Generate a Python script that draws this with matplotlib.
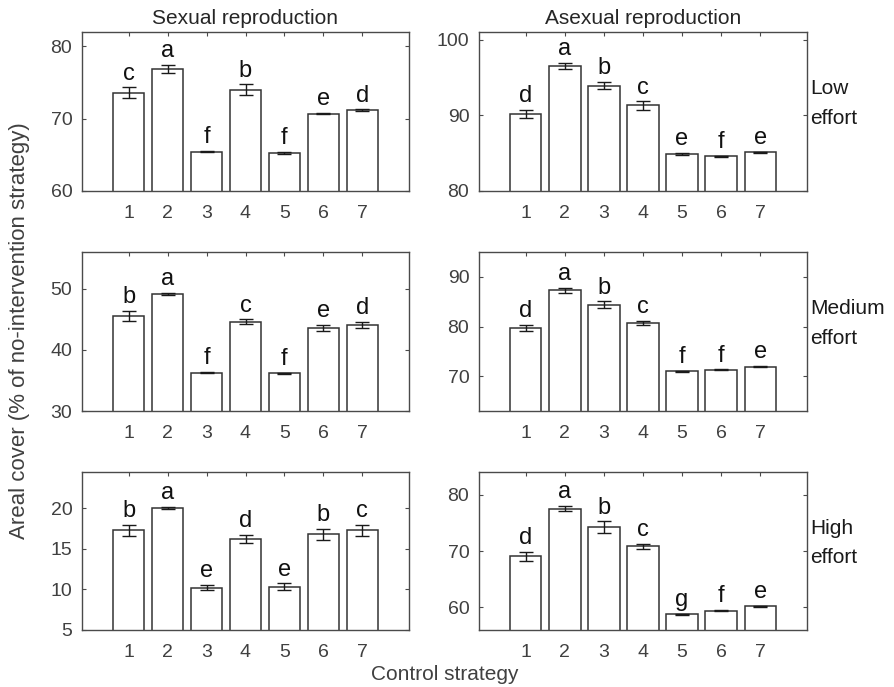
import matplotlib
matplotlib.use("Agg")
import matplotlib.pyplot as plt

plt.rcParams['font.family'] = ['Liberation Sans', 'DejaVu Sans']

strategies = [1, 2, 3, 4, 5, 6, 7]

# sexual reproduction (left column)
sex_low = [73.6, 76.9, 65.45, 74.0, 65.27, 70.7, 71.18]
sex_low_err = [0.75, 0.55, 0.1, 0.74, 0.1, 0.1, 0.1]
sex_low_letters = ["c", "a", "f", "b", "f", "e", "d"]

sex_med = [45.5, 49.2, 36.25, 44.6, 36.14, 43.6, 44.1]
sex_med_err = [0.84, 0.15, 0.1, 0.38, 0.1, 0.5, 0.46]
sex_med_letters = ["b", "a", "f", "c", "f", "e", "d"]

sex_high = [17.3, 20.04, 10.23, 16.2, 10.35, 16.8, 17.3]
sex_high_err = [0.7, 0.12, 0.33, 0.5, 0.41, 0.7, 0.7]
sex_high_letters = ["b", "a", "e", "d", "e", "b", "c"]

# asexual reproduction (right column)
asex_low = [90.2, 96.5, 93.9, 91.3, 84.9, 84.57, 85.1]
asex_low_err = [0.5, 0.44, 0.46, 0.55, 0.1, 0.1, 0.1]
asex_low_letters = ["d", "a", "b", "c", "e", "f", "e"]

asex_med = [79.7, 87.3, 84.4, 80.74, 71.0, 71.28, 71.95]
asex_med_err = [0.6, 0.54, 0.64, 0.47, 0.1, 0.1, 0.1]
asex_med_letters = ["d", "a", "b", "c", "f", "f", "e"]

asex_high = [69.05, 77.48, 74.2, 70.83, 58.81, 59.4, 60.24]
asex_high_err = [0.77, 0.45, 1.04, 0.39, 0.1, 0.1, 0.1]
asex_high_letters = ["d", "a", "b", "c", "g", "f", "e"]

col_titles = ["Sexual reproduction", "Asexual reproduction"]
row_labels = ["Low\neffort", "Medium\neffort", "High\neffort"]

panels = [
    [(sex_low, sex_low_err, sex_low_letters, (60, 82), [60, 70, 80]),
     (asex_low, asex_low_err, asex_low_letters, (80, 101), [80, 90, 100])],
    [(sex_med, sex_med_err, sex_med_letters, (30, 56), [30, 40, 50]),
     (asex_med, asex_med_err, asex_med_letters, (63, 95), [70, 80, 90])],
    [(sex_high, sex_high_err, sex_high_letters, (5, 24.5), [5, 10, 15, 20]),
     (asex_high, asex_high_err, asex_high_letters, (56, 84), [60, 70, 80])],
]

W, H = 895, 687
fig = plt.figure(figsize=(W / 100, H / 100), dpi=100)

col_x = [(82, 409), (479, 807)]
row_y = [(32, 191), (252, 411), (472, 630)]

axis_gray = "#4a4a4a"
text_gray = "#404040"

for r in range(3):
    for c in range(2):
        vals, errs, letters, ylim, yticks = panels[r][c]
        x0, x1 = col_x[c]
        y0, y1 = row_y[r]
        ax = fig.add_axes([x0 / W, 1 - y1 / H, (x1 - x0) / W, (y1 - y0) / H])
        ax.bar(strategies, vals, width=0.8, color="white",
               edgecolor="#333333", linewidth=1.1, zorder=2)
        ax.errorbar(strategies, vals, yerr=errs, fmt="none", ecolor="#1a1a1a",
                    elinewidth=1.0, capsize=5, capthick=1.0, zorder=3)
        for xi, v, e, lab in zip(strategies, vals, errs, letters):
            ax.annotate(lab, (xi, v + e), xytext=(0, 2), textcoords="offset points",
                        ha="center", va="bottom", fontsize=17, color="#111111")
        ax.set_xlim(-0.2, 8.2)
        ax.set_ylim(*ylim)
        ax.set_xticks(strategies)
        ax.set_yticks(yticks)
        ax.tick_params(direction="in", length=3, width=0.8, colors=axis_gray,
                       labelcolor=text_gray, labelsize=14, top=True, right=True,
                       pad=7)
        ax.tick_params(axis="x", pad=10)
        for sp in ax.spines.values():
            sp.set_color(axis_gray)
            sp.set_linewidth(1.0)
        if r == 0:
            ax.set_title(col_titles[c], fontsize=15, color="#262626", pad=6)
        if c == 1:
            ax.text(1.01, 0.55, row_labels[r], transform=ax.transAxes,
                    ha="left", va="center", fontsize=15, color="#1a1a1a",
                    linespacing=1.7)

fig.text(20 / W, 1 - 331 / H, "Areal cover (% of no-intervention strategy)",
         rotation=90, ha="center", va="center", fontsize=16, color=text_gray)
fig.text(445 / W, 1 - 675 / H, "Control strategy", ha="center", va="center",
         fontsize=15, color=text_gray)

fig.savefig("out.png", dpi=100)
